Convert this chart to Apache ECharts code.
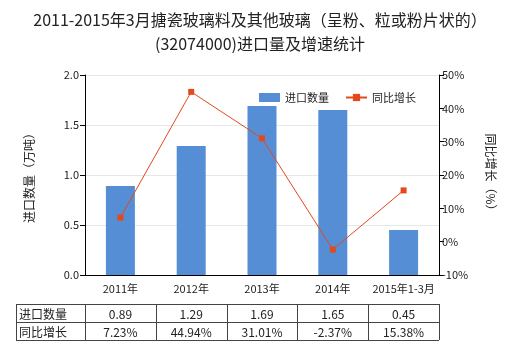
<!DOCTYPE html>
<html>
<head>
<meta charset="utf-8">
<script src="https://cdn.jsdelivr.net/npm/echarts@6/dist/echarts.min.js"></script>
<style>
  html, body { margin: 0; padding: 0; background: #fff; }
  #chart { width: 520px; height: 350px; }
</style>
</head>
<body>
<div id="chart"></div>
<script>
// Import volume (10k tonnes) and year-on-year growth (%)
const categories = ['2011年', '2012年', '2013年', '2014年', '2015年1-3月'];
const importVolume = [0.89, 1.29, 1.69, 1.65, 0.45];
const yoyGrowth = [7.23, 44.94, 31.01, -2.37, 15.38];
const volumeTicks = { min: 0, max: 2, interval: 0.5 };
const growthTicks = { min: -10, max: 50, interval: 10 };

const FONT = '"Noto Sans CJK SC", "Noto Sans", sans-serif';
const BAR_COLOR = '#558ed5';
const LINE_COLOR = '#e4481b';
const TEXT = '#222';

const chart = echarts.init(document.getElementById('chart'), null, { renderer: 'canvas' });

const grid = { left: 85, right: 81, top: 75, bottom: 75 };

const option = {
  animation: false,
  backgroundColor: '#fff',
  textStyle: { fontFamily: FONT },
  title: {
    text: '2011-2015年3月搪瓷玻璃料及其他玻璃（呈粉、粒或粉片状的）\n(32074000)进口量及增速统计',
    left: 'center',
    top: 3,
    textStyle: { fontFamily: FONT, fontSize: 16, fontWeight: 'normal', color: TEXT, lineHeight: 24 }
  },
  legend: {
    top: 87,
    left: 254,
    itemGap: 16,
    itemWidth: 21,
    itemHeight: 9,
    textStyle: { fontFamily: FONT, fontSize: 11, color: TEXT },
    data: [
      { name: '进口数量', icon: 'rect' },
      { name: '同比增长' }
    ]
  },
  grid: grid,
  xAxis: {
    type: 'category',
    data: categories,
    axisLine: { lineStyle: { color: '#000', width: 1 } },
    axisTick: { alignWithLabel: true, length: 4, lineStyle: { color: '#000' } },
    axisLabel: { interval: 0, fontFamily: FONT, fontSize: 11, color: TEXT, margin: 8 }
  },
  yAxis: [
    {
      type: 'value',
      min: volumeTicks.min, max: volumeTicks.max, interval: volumeTicks.interval,
      name: '进口数量（万吨）',
      nameLocation: 'middle',
      nameRotate: 90,
      nameGap: 50,
      nameTextStyle: { fontFamily: FONT, fontSize: 12, color: TEXT },
      axisLine: { show: true, lineStyle: { color: '#000' } },
      axisTick: { show: true, length: 5, lineStyle: { color: '#000' } },
      axisLabel: { fontFamily: FONT, fontSize: 11, color: TEXT, margin: 6, formatter: v => v.toFixed(1) },
      splitLine: { lineStyle: { color: '#e3e8ea' } }
    },
    {
      type: 'value',
      min: growthTicks.min, max: growthTicks.max, interval: growthTicks.interval,
      name: '同比增长（%）',
      nameLocation: 'middle',
      nameRotate: -90,
      nameGap: 46,
      nameTextStyle: { fontFamily: FONT, fontSize: 12, color: TEXT },
      axisLine: { show: true, lineStyle: { color: '#000' } },
      axisTick: { show: true, length: 5, lineStyle: { color: '#000' } },
      axisLabel: { fontFamily: FONT, fontSize: 11, color: TEXT, margin: 3, formatter: '{value}%' },
      splitLine: { show: false }
    }
  ],
  series: [
    {
      name: '进口数量',
      type: 'bar',
      yAxisIndex: 0,
      data: importVolume,
      barWidth: 29,
      itemStyle: { color: BAR_COLOR }
    },
    {
      name: '同比增长',
      type: 'line',
      yAxisIndex: 1,
      data: yoyGrowth,
      symbol: 'rect',
      symbolSize: 6,
      lineStyle: { color: LINE_COLOR, width: 1 },
      itemStyle: { color: LINE_COLOR }
    }
  ]
};

chart.setOption(option);

// Data table under the plot, columns aligned with the category bands
function buildTable() {
  const rowTop = 304, rowH = 18, tableLeft = 16;
  const first = chart.convertToPixel({ xAxisIndex: 0 }, categories[0]);
  const second = chart.convertToPixel({ xAxisIndex: 0 }, categories[1]);
  const band = second - first;
  const plotLeft = first - band / 2;
  const plotRight = plotLeft + band * categories.length;
  const lineStyle = { stroke: '#444', lineWidth: 1 };
  const els = [];
  const hline = y => els.push({ type: 'line', shape: { x1: tableLeft, y1: y, x2: plotRight, y2: y }, style: lineStyle, silent: true });
  const vline = x => els.push({ type: 'line', shape: { x1: x, y1: rowTop, x2: x, y2: rowTop + 2 * rowH }, style: lineStyle, silent: true });
  hline(rowTop + 0.5); hline(rowTop + rowH + 0.5); hline(rowTop + 2 * rowH + 0.5);
  vline(tableLeft + 0.5);
  for (let i = 0; i <= categories.length; i++) vline(Math.round(plotLeft + band * i) + 0.5);

  const rows = [
    { label: '进口数量', values: importVolume.map(v => v.toFixed(2)) },
    { label: '同比增长', values: yoyGrowth.map(v => v.toFixed(2) + '%') }
  ];
  rows.forEach((row, r) => {
    const cy = rowTop + rowH * r + rowH / 2 + 1;
    els.push({ type: 'text', x: tableLeft + 3, y: cy, silent: true,
      style: { text: row.label, font: '12px ' + FONT, fill: TEXT, textVerticalAlign: 'middle', verticalAlign: 'middle' } });
    row.values.forEach((t, i) => {
      els.push({ type: 'text', x: plotLeft + band * (i + 0.5), y: cy, silent: true,
        style: { text: t, font: '12px ' + FONT, fill: TEXT, align: 'center', textAlign: 'center', verticalAlign: 'middle', textVerticalAlign: 'middle' } });
    });
  });
  chart.setOption({ graphic: els });
}
buildTable();
</script>
</body>
</html>
